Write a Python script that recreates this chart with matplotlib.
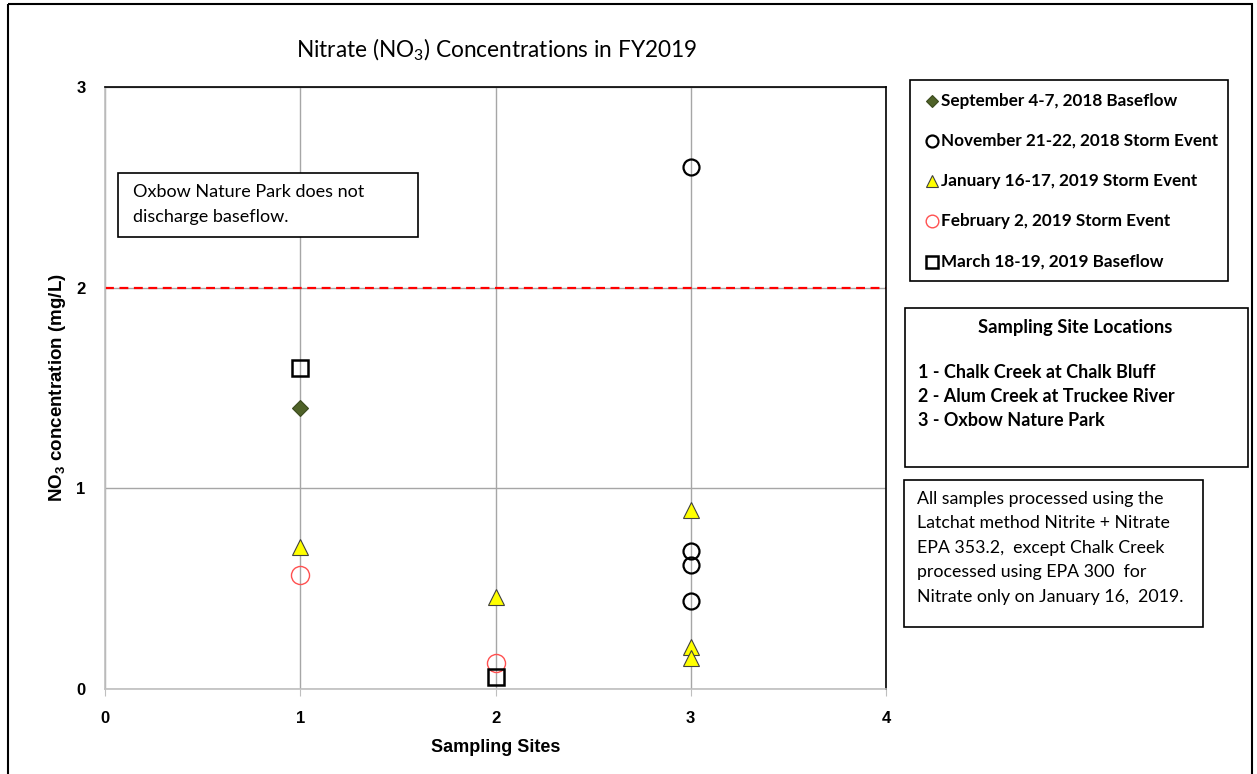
import matplotlib
matplotlib.use("Agg")
import matplotlib.pyplot as plt
from matplotlib.patches import Rectangle

plt.rcParams['mathtext.default'] = 'regular'

# ---- data ----
sep_x = [1]
sep_y = [1.40]
nov_x = [3, 3, 3, 3]
nov_y = [2.60, 0.69, 0.62, 0.44]
jan_x = [1, 2, 3, 3, 3]
jan_y = [0.71, 0.46, 0.89, 0.21, 0.155]
feb_x = [1, 2]
feb_y = [0.57, 0.13]
mar_x = [1, 2]
mar_y = [1.60, 0.06]
standard_y = 2.0

series_labels = ["September 4-7, 2018 Baseflow",
                 "November 21-22, 2018 Storm Event",
                 "January 16-17, 2019 Storm Event",
                 "February 2, 2019 Storm Event",
                 "March 18-19, 2019 Baseflow"]
site_lines = ["1 - Chalk Creek at Chalk Bluff",
              "2 - Alum Creek at Truckee River",
              "3 - Oxbow Nature Park"]
method_lines = ["All samples processed using the",
                "Latchat method Nitrite + Nitrate",
                "EPA 353.2,  except Chalk Creek",
                "processed using EPA 300  for",
                "Nitrate only on January 16,  2019."]
oxbow_lines = ["Oxbow Nature Park does not", "discharge baseflow."]
x_ticks = [0, 1, 2, 3, 4]
y_ticks = [0, 1, 2, 3]

W, H = 1257, 774
fig = plt.figure(figsize=(W / 100, H / 100), dpi=100)

def fx(px):
    return px / W

def fy(py):
    return 1 - py / H

# main axes: left 105, right 886, top 87, bottom 689
ax = fig.add_axes([fx(105), fy(689), fx(886) - fx(105), fy(87) - fy(689)])
ax.set_xlim(0, 4)
ax.set_ylim(0, 3)
ax.set_xticks(x_ticks)
ax.set_yticks(y_ticks)
ax.grid(True, color='#a6a6a6', linewidth=1.0)
ax.set_axisbelow(True)
for s in ['top', 'right']:
    ax.spines[s].set_color('black')
    ax.spines[s].set_linewidth(1.2)
for s in ['left', 'bottom']:
    ax.spines[s].set_color('#bfbfbf')
    ax.spines[s].set_linewidth(1.2)
ax.tick_params(axis='x', length=5, color='#bfbfbf', pad=11)
ax.tick_params(axis='y', length=0, pad=14)
for lab in ax.get_xticklabels() + ax.get_yticklabels():
    lab.set_fontfamily('Liberation Sans')
    lab.set_fontweight('bold')
    lab.set_fontsize(12)

ax.axhline(standard_y, color='#ff0000', linestyle=(0, (4, 2.5)), linewidth=1.6, zorder=2)

h_sep, = ax.plot(sep_x, sep_y, linestyle='none', marker='D', markersize=8.5,
                 markerfacecolor='#4f6228', markeredgecolor='#3b4a1e', markeredgewidth=0.8,
                 label=series_labels[0], zorder=5)
h_nov, = ax.plot(nov_x, nov_y, linestyle='none', marker='o', markersize=11.5,
                 markerfacecolor='none', markeredgecolor='black', markeredgewidth=1.6,
                 label=series_labels[1], zorder=5)
h_jan, = ax.plot(jan_x, jan_y, linestyle='none', marker='^', markersize=11,
                 markerfacecolor='#ffff00', markeredgecolor='#404040', markeredgewidth=0.8,
                 label=series_labels[2], zorder=5)
h_feb, = ax.plot(feb_x, feb_y, linestyle='none', marker='o', markersize=13,
                 markerfacecolor='none', markeredgecolor='#ff5050', markeredgewidth=1.0,
                 label=series_labels[3], zorder=5)
h_mar, = ax.plot(mar_x, mar_y, linestyle='none', marker='s', markersize=11,
                 markerfacecolor='none', markeredgecolor='black', markeredgewidth=1.8,
                 label=series_labels[4], zorder=6)

ax.set_xlabel("Sampling Sites", fontfamily='Liberation Sans', fontweight='bold',
              fontsize=13)
ax.xaxis.set_label_coords(0.5, -(748 - 689) / 602)
ax.set_ylabel("NO$_3$ concentration (mg/L)", fontfamily='Liberation Sans',
              fontweight='bold', fontsize=13.5)
ax.yaxis.set_label_coords(-(105 - 58) / 781, 0.5)
ax.xaxis.label.set_va('center')
ax.yaxis.label.set_va('center')

# overlay axes in pixel coords for boxes and text
ov = fig.add_axes([0, 0, 1, 1], facecolor='none')
ov.set_xlim(0, W)
ov.set_ylim(H, 0)
ov.axis('off')

# outer frame
ov.add_patch(Rectangle((8, 4), 1244, 800, fill=False, edgecolor='black', linewidth=1.5,
                       clip_on=False))

ov.text(497, 50, "Nitrate (NO$_3$) Concentrations in FY2019", ha='center', va='center',
        fontfamily='Lato', fontsize=16.3)

# legend box
ov.add_patch(Rectangle((910, 80), 318, 201, fill=False, edgecolor='black', linewidth=1.2))
leg_y = [101, 141, 181, 221, 262]
handles = [h_sep, h_nov, h_jan, h_feb, h_mar]
scale = [0.75, 0.75, 0.75, 0.7, 0.8]
for yy, hnd, sc in zip(leg_y, handles, scale):
    ov.plot([932], [yy], linestyle='none', marker=hnd.get_marker(),
            markersize=hnd.get_markersize() * sc,
            markerfacecolor=hnd.get_markerfacecolor(),
            markeredgecolor=hnd.get_markeredgecolor(),
            markeredgewidth=hnd.get_markeredgewidth())
    ov.text(941, yy, hnd.get_label(), ha='left', va='center', fontfamily='Lato',
            fontweight='bold', fontsize=12.3)

# sampling sites box
ov.add_patch(Rectangle((905, 308), 343, 159, fill=False, edgecolor='black', linewidth=1.2))
ov.text(1075, 328, "Sampling Site Locations", ha='center', va='center', fontfamily='Lato',
        fontweight='bold', fontsize=13.2)
for i, t in enumerate(site_lines):
    ov.text(918, 373 + i * 24, t, ha='left', va='center', fontfamily='Lato',
            fontweight='bold', fontsize=13)

# method box
ov.add_patch(Rectangle((904, 480), 299, 147, fill=False, edgecolor='black', linewidth=1.2))
for i, t in enumerate(method_lines):
    ov.text(917, 499 + i * 24.5, t, ha='left', va='center', fontfamily='Lato', fontsize=12.8)

# oxbow note box
ov.add_patch(Rectangle((118, 173), 300, 64, facecolor='white', edgecolor='black',
                       linewidth=1.2, zorder=3))
for i, t in enumerate(oxbow_lines):
    ov.text(133, 192 + i * 25, t, ha='left', va='center', fontfamily='Lato', fontsize=13,
            zorder=4)

fig.savefig("out.png", dpi=100, facecolor='white')
